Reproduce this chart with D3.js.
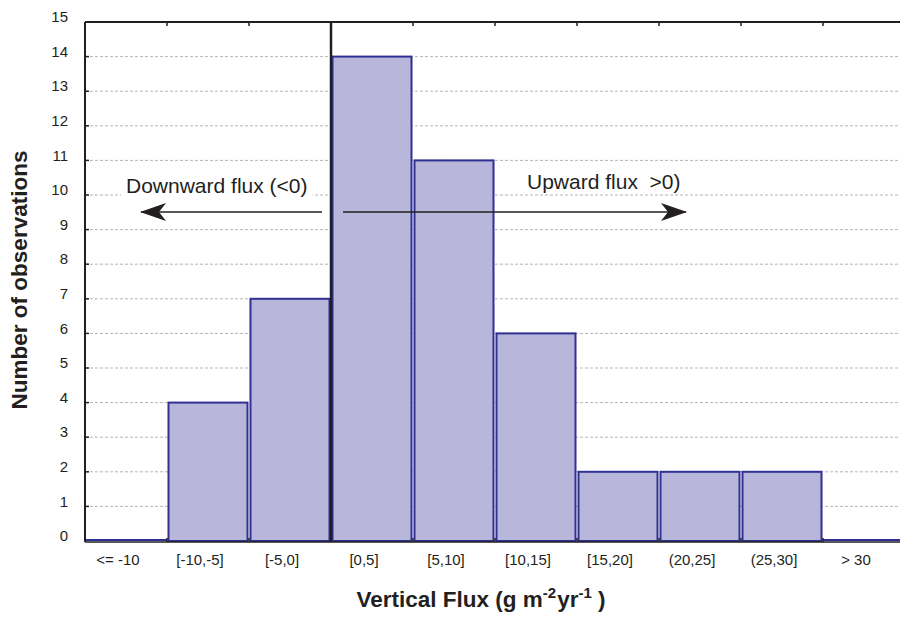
<!DOCTYPE html>
<html><head><meta charset="utf-8">
<script src="https://cdn.jsdelivr.net/npm/d3@7"></script>
<style>body{margin:0;background:#fff}text{font-family:"Liberation Sans",Arial,sans-serif}</style>
</head><body><svg id="c" width="900" height="618"></svg>
<script>
const categories = ["<= -10","[-10,-5]","[-5,0]","[0,5]","[5,10]","[10,15]","[15,20]","(20,25]","(25,30]","> 30"];
const counts = [0,4,7,14,11,6,2,2,2,0];
const yTicks = [0,1,2,3,4,5,6,7,8,9,10,11,12,13,14,15];

const svg = d3.select("#c");
const m = {l:85, t:22, r:905, b:541};
const x = d3.scaleBand().domain(categories).range([m.l, m.r]).paddingInner(0).paddingOuter(0);
const y = d3.scaleLinear().domain([0,15]).range([m.b, m.t]);
const ink = "#231f20";

// gridlines
svg.append("g").selectAll("line").data(yTicks.filter(d=>d>0&&d<15)).join("line")
  .attr("x1", m.l).attr("x2", m.r).attr("y1", d=>y(d)).attr("y2", d=>y(d))
  .attr("stroke","#b5b5b5").attr("stroke-width",1).attr("stroke-dasharray","3,2");

// annotation text with white backgrounds
const ann = [
  {t:"Downward flux (<0)", x:126, y:193},
  {t:"Upward flux  >0)", x:527, y:189}
];
const ag = svg.append("g");
ann.forEach(a=>{
  const t = ag.append("text").attr("x",a.x).attr("y",a.y).style("font-size","21px").attr("fill",ink).style("white-space","pre").text(a.t);
  const bb = t.node().getBBox();
  ag.insert("rect","text").attr("x",bb.x-5).attr("y",bb.y+1).attr("width",bb.width+10).attr("height",bb.height-2).attr("fill","#fff");
});

// bars
svg.append("g").selectAll("rect").data(categories).join("rect")
  .attr("x", d=>x(d)+1.5).attr("width", x.bandwidth()-3)
  .attr("y", (d,i)=>y(counts[i])).attr("height",(d,i)=>y(0)-y(counts[i]))
  .attr("fill","#b9b6dc").attr("stroke","#2e3192").attr("stroke-width",2);
// zero-count bars drawn as baseline
svg.append("g").selectAll("line").data(categories.filter((d,i)=>counts[i]===0)).join("line")
  .attr("x1", d=>x(d)).attr("x2", d=>x(d)+x.bandwidth()).attr("y1", y(0)-1).attr("y2", y(0)-1)
  .attr("stroke","#2e3192").attr("stroke-width",2);

// frame
svg.append("line").attr("x1",m.l).attr("x2",m.r).attr("y1",m.t).attr("y2",m.t).attr("stroke",ink).attr("stroke-width",2);
svg.append("line").attr("x1",m.l).attr("x2",m.r).attr("y1",m.b+1).attr("y2",m.b+1).attr("stroke",ink).attr("stroke-width",1.5);
svg.append("line").attr("x1",m.l).attr("x2",m.l).attr("y1",m.t).attr("y2",m.b+1).attr("stroke",ink).attr("stroke-width",2);

// ticks at bin boundaries (top and bottom)
const bounds = categories.slice(1).map(d=>x(d));
svg.append("g").selectAll("line").data(bounds).join("line")
  .attr("x1",d=>d).attr("x2",d=>d).attr("y1",m.t).attr("y2",m.t+4).attr("stroke",ink).attr("stroke-width",1.5);
svg.append("g").selectAll("line").data(bounds).join("line")
  .attr("x1",d=>d).attr("x2",d=>d).attr("y1",m.b+1).attr("y2",m.b-3).attr("stroke",ink).attr("stroke-width",1.5);

// y axis
const yAxis = d3.axisLeft(y).tickValues(yTicks).tickSize(0).tickPadding(17);
const ga = svg.append("g").attr("transform",`translate(${m.l},0)`).call(yAxis);
ga.select(".domain").remove();
ga.selectAll("text").style("font-size","15px").attr("fill",ink).attr("font-family","Liberation Sans, Arial, sans-serif").attr("dy","-0.02em");
svg.append("g").selectAll("line").data(yTicks.filter(d=>d<15&&d>0)).join("line")
  .attr("x1",m.l).attr("x2",m.l+4).attr("y1",d=>y(d)).attr("y2",d=>y(d)).attr("stroke",ink).attr("stroke-width",1.5);

// x axis labels
const xAxis = d3.axisBottom(x).tickSize(0).tickPadding(13);
const gx = svg.append("g").attr("transform",`translate(0,${m.b})`).call(xAxis);
gx.select(".domain").remove();
gx.selectAll("text").style("font-size","15px").attr("fill",ink).attr("font-family","Liberation Sans, Arial, sans-serif").attr("dx",-8);

// zero divider
svg.append("line").attr("x1",x("[0,5]")).attr("x2",x("[0,5]")).attr("y1",m.t).attr("y2",m.b+1).attr("stroke",ink).attr("stroke-width",2.5);

// arrows
const defs = svg.append("defs");
defs.append("marker").attr("id","ah").attr("viewBox","0 0 26 18").attr("refX",25).attr("refY",9)
  .attr("markerWidth",26).attr("markerHeight",18).attr("markerUnits","userSpaceOnUse").attr("orient","auto")
  .append("path").attr("d","M0,0 L26,9 L0,18 L7,9 Z").attr("fill",ink);
svg.append("line").attr("x1",322).attr("x2",141).attr("y1",212).attr("y2",212).attr("stroke",ink).attr("stroke-width",1.6).attr("marker-end","url(#ah)");
svg.append("line").attr("x1",343).attr("x2",686).attr("y1",212).attr("y2",212).attr("stroke",ink).attr("stroke-width",1.6).attr("marker-end","url(#ah)");

// titles
svg.append("text").attr("transform","translate(27,280) rotate(-90)").attr("text-anchor","middle")
  .style("font-size","22.5px").attr("font-weight","bold").attr("fill",ink).text("Number of observations");
const xt = svg.append("text").attr("x",481).attr("y",607).attr("text-anchor","middle").style("font-size","22.5px").attr("font-weight","bold").attr("fill",ink);
xt.append("tspan").text("Vertical Flux (g m");
xt.append("tspan").attr("dy",-9).style("font-size","15px").text("-2");
xt.append("tspan").attr("dy",9).attr("dx",1).text("yr");
xt.append("tspan").attr("dy",-9).style("font-size","15px").text("-1");
xt.append("tspan").attr("dy",9).text(" )");
</script></body></html>
